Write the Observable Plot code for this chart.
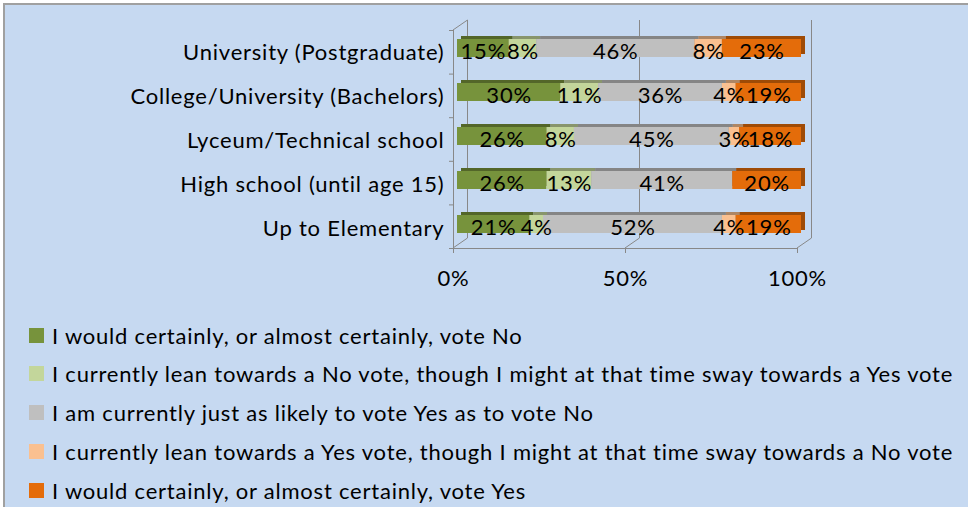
<!DOCTYPE html>
<html><head><meta charset="utf-8">
<script src="https://cdn.jsdelivr.net/npm/d3@7"></script>
<script src="https://cdn.jsdelivr.net/npm/@observablehq/plot@0.6"></script>
<style>
html,body{margin:0;padding:0;background:#fff;width:968px;height:507px;overflow:hidden;position:relative;}
#box{position:absolute;left:3px;top:3px;width:1000px;height:600px;background:#c6d9f1;border-top:2px solid #a0a0a0;border-left:2px solid #a0a0a0;}
#chart{position:absolute;left:0;top:0;}
#legend{position:absolute;left:0;top:0;font-family:Lato,sans-serif;font-size:22px;letter-spacing:0.78px;color:#000;}
.item{position:absolute;left:29px;white-space:nowrap;display:flex;align-items:center;height:30px;}
.sw{width:15px;height:15px;margin-right:8px;flex:none;}
</style></head>
<body>
<div id="box"></div>
<div id="chart"></div>
<div id="legend"></div>
<script>
const categories = ["University (Postgraduate)","College/University (Bachelors)","Lyceum/Technical school","High school (until age 15)","Up to Elementary"];
const seriesNames = [
  "I would certainly, or almost certainly, vote No",
  "I currently lean towards a No vote, though I might at that time sway towards a Yes vote",
  "I am currently just as likely to vote Yes as to vote No",
  "I currently lean towards a Yes vote, though I might at that time sway towards a No vote",
  "I would certainly, or almost certainly, vote Yes"
];
const certainlyNo  = [15, 30, 26, 26, 21];
const leanNo       = [8, 11, 8, 13, 4];
const neutral      = [46, 36, 45, 41, 52];
const leanYes      = [8, 4, 3, 0, 4];
const certainlyYes = [23, 19, 18, 20, 19];
const seriesColors = ["#77933c","#c3d69b","#bfbfbf","#fac090","#e46c0a"];
const xTicks = [0, 50, 100];
const xTickLabels = ["0%","50%","100%"];

const seriesValues = [certainlyNo, leanNo, neutral, leanYes, certainlyYes];
const data = [];
categories.forEach((c, i) => {
  seriesNames.forEach((s, j) => data.push({cat: c, series: s, value: seriesValues[j][i]}));
});

const FONT = "Lato, sans-serif";
const FS = 22;

const chart = Plot.plot({
  width: 968,
  height: 300,
  marginLeft: 457,
  marginRight: 167,
  marginTop: 13,
  marginBottom: 40,
  style: {background: "transparent", fontFamily: FONT, fontSize: FS + "px", color: "#000", letterSpacing: "0.78px"},
  x: {domain: [0, 100]},
  y: {domain: categories, padding: 0.59},
  color: {domain: seriesNames, range: seriesColors},
  marks: [
    Plot.barX(data, Plot.stackX({x: "value", y: "cat", fill: "series", dx: 4, dy: -3})),
    Plot.barX(data, Plot.stackX({x: "value", y: "cat", fill: "black", fillOpacity: 0.3, dx: 4, dy: -3})),
    Plot.barX(data, Plot.stackX({x: "value", y: "cat", fill: "series"})),
    Plot.text(data, Plot.stackX({x: "value", y: "cat", text: d => d.value ? d.value + "%" : "", fill: "#000", fontSize: FS, fontFamily: FONT, dy: 3})),
    Plot.axisY({tickSize: 0, tickPadding: 13, fontSize: FS, fontFamily: FONT, dy: 4, fill: "#000", label: null}),
    Plot.axisX({ticks: xTicks, tickFormat: (d, i) => xTickLabels[xTicks.indexOf(d)], tickSize: 0, tickPadding: 10, dx: -4, fontSize: FS, fontFamily: FONT, fill: "#000", label: null})
  ]
});
document.getElementById("chart").appendChild(chart);

// 3D frame (back wall gridlines, floor, side wall) positioned with Plot's x scale
const xs = chart.scale("x");
const X = v => xs.apply(v);
const svg = d3.select(chart);
const g = svg.insert("g", "g").attr("stroke", "#888").attr("fill", "none").attr("stroke-width", 1);
const yBackTop = 20, yBackBot = 238, yFrontBot = 248, yFrontTop = 30;
xTicks.forEach(v => {
  g.append("line").attr("x1", X(v) + 10.5).attr("x2", X(v) + 10.5).attr("y1", yBackTop).attr("y2", yBackBot);
  g.append("line").attr("x1", X(v) + 10.5).attr("y1", yBackBot).attr("x2", X(v) - 4).attr("y2", yFrontBot);
  g.append("line").attr("x1", X(v) - 4 + 0.5).attr("x2", X(v) - 4 + 0.5).attr("y1", yFrontBot).attr("y2", yFrontBot + 5);
});
g.append("line").attr("x1", X(0) - 4).attr("x2", X(100) - 4).attr("y1", yFrontBot + 0.5).attr("y2", yFrontBot + 0.5);
g.append("line").attr("x1", X(0) - 3.5).attr("x2", X(0) - 3.5).attr("y1", yFrontTop).attr("y2", yFrontBot);
g.append("line").attr("x1", X(0) - 4).attr("y1", yFrontTop).attr("x2", X(0) + 10.5).attr("y2", yBackTop);
const step = (yFrontBot - yFrontTop) / categories.length;
d3.range(categories.length + 1).forEach(i => {
  g.append("line").attr("x1", X(0) - 8).attr("x2", X(0) - 4).attr("y1", yFrontTop + i * step + 0.5).attr("y2", yFrontTop + i * step + 0.5);
});

// Legend
const leg = document.getElementById("legend");
seriesNames.forEach((s, i) => {
  const it = document.createElement("div");
  it.className = "item";
  it.style.top = (335 + i * 38.75 - 15) + "px";
  const sw = document.createElement("span");
  sw.className = "sw";
  sw.style.background = seriesColors[i];
  const tx = document.createElement("span");
  tx.textContent = s;
  it.appendChild(sw); it.appendChild(tx);
  leg.appendChild(it);
});
</script>
</body></html>
